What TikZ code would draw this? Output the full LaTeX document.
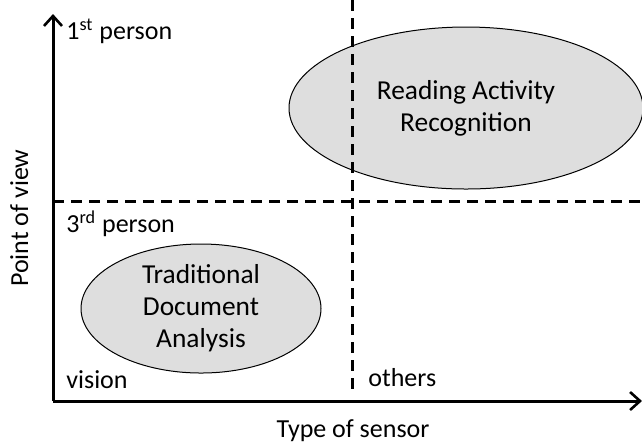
\documentclass[tikz,border=0pt]{standalone}
\usepackage{fontspec}
\setmainfont{Carlito}
\usetikzlibrary{shapes.geometric,arrows.meta}
\definecolor{ellfill}{RGB}{222,222,222}
\tikzset{
  axisline/.style={line width=1.5pt,-{Straight Barb[length=5pt,width=9pt,line width=1.3pt]}},
  divline/.style={line width=1.5pt,dash pattern=on 5.5pt off 3.5pt},
  blob/.style={ellipse,draw=black,line width=0.5pt,fill=ellfill,inner sep=0pt,align=center,font=\fontsize{13.7}{16}\selectfont},
  lbl/.style={font=\fontsize{13}{15.8}\selectfont,inner sep=0pt}
}
\begin{document}
\begin{tikzpicture}[x=0.5pt,y=-0.5pt]
\useasboundingbox (0,0) rectangle (642,447);
% ellipses
\node[blob,minimum width=177pt,minimum height=81pt] (rar) at (466,108) {Reading Activity\\Recognition};
\node[blob,minimum width=120pt,minimum height=64.5pt] (tda) at (201,308.5) {Traditional\\Document\\Analysis};
% coordinates
\coordinate (O) at (53,401);
\coordinate (ytop) at (53,14);
\coordinate (xend) at (642,401);
\coordinate (hl) at (53,201);
\coordinate (hr) at (642,201);
\coordinate (vt) at (352,0);
\coordinate (vb) at (352,395);
% dashed dividers
\draw[divline] (hl) -- (hr);
\draw[divline] (vt) -- (vb);
% axes
\draw[axisline] (O) -- (ytop);
\draw[axisline] (O) -- (xend);
% labels
\node[lbl,anchor=base west] (first) at (66,39) {1\textsuperscript{st} person};
\node[lbl,anchor=base west] (third) at (66,232) {3\textsuperscript{rd} person};
\node[lbl,anchor=base west] (vision) at (66,388) {vision};
\node[lbl,anchor=base west] (others) at (368,386) {others};
\node[lbl,anchor=base] (xlab) at (353,437) {Type of sensor};
\node[lbl,anchor=base,rotate=90] (ylab) at (28,218) {Point of view};
\end{tikzpicture}
\end{document}
